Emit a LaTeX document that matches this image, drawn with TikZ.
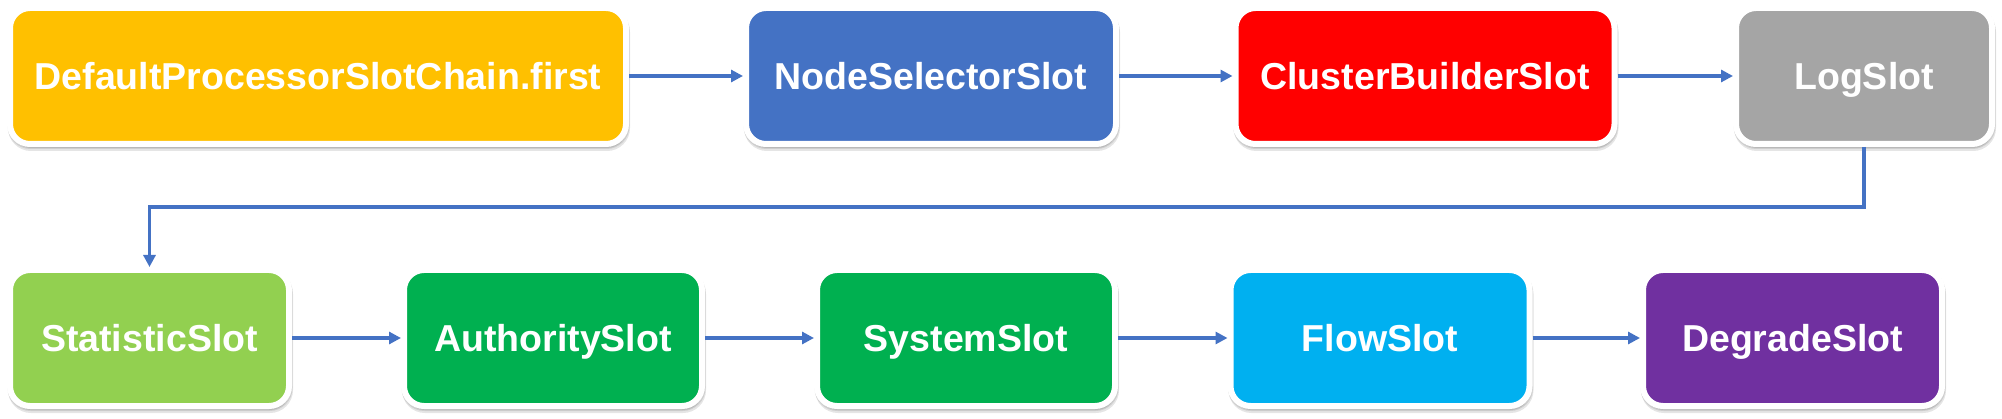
\documentclass[tikz,border=0pt]{standalone}
\usepackage{fontspec}
\setmainfont{Liberation Sans}
\usetikzlibrary{arrows.meta,shadows,calc}
\definecolor{cyellow}{HTML}{FFC000}
\definecolor{cblue}{HTML}{4472C4}
\definecolor{cred}{HTML}{FF0000}
\definecolor{cgray}{HTML}{A5A5A5}
\definecolor{clgreen}{HTML}{92D050}
\definecolor{cgreen}{HTML}{00B050}
\definecolor{ccyan}{HTML}{00B0F0}
\definecolor{cpurple}{HTML}{7030A0}
\definecolor{cline}{HTML}{4472C4}
\tikzset{
  slotbox/.style={
    rectangle, rounded corners=20pt, draw=white, line width=6pt,
    minimum height=136pt, inner sep=0pt, text=white,
    font=\fontsize{37.5pt}{40pt}\selectfont\bfseries,
    text height=26.85pt, text depth=0pt,
    drop shadow={shadow xshift=1pt, shadow yshift=-4pt, opacity=0.10, fill=black, draw=black, line width=6pt},
    drop shadow={shadow xshift=0.5pt, shadow yshift=-2pt, opacity=0.10, fill=black, draw=black, line width=6pt}
  },
  conn/.style={draw=cline, line width=3.6pt, -{Triangle[length=12pt,width=12pt]}}
}
\begin{document}
\begin{tikzpicture}[x=1pt,y=-1pt]
\useasboundingbox (0,0) rectangle (2002,419);
% row 1
\node[slotbox, fill=cyellow, minimum width=616pt] (b1) at (318,76) {DefaultProcessorSlotChain.first};
\node[slotbox, fill=cblue, minimum width=370pt] (b2) at (931,76) {NodeSelectorSlot};
\node[slotbox, fill=cred, minimum width=379pt] (b3) at (1425,76) {ClusterBuilderSlot};
\node[slotbox, fill=cgray, minimum width=256pt] (b4) at (1864,76) {LogSlot};
% row 2
\node[slotbox, fill=clgreen, minimum width=279pt] (s1) at (149.5,338) {StatisticSlot};
\node[slotbox, fill=cgreen, minimum width=298pt] (s2) at (553,338) {AuthoritySlot};
\node[slotbox, fill=cgreen, minimum width=298pt] (s3) at (966,338) {SystemSlot};
\node[slotbox, fill=ccyan, minimum width=299pt] (s4) at (1380,338) {FlowSlot};
\node[slotbox, fill=cpurple, minimum width=299pt] (s5) at (1792.5,338) {DegradeSlot};
% connectors
\draw[conn] (b1) -- (b2);
\draw[conn] (b2) -- (b3);
\draw[conn] (b3) -- (b4);
\coordinate (turn) at (0,207);
\draw[conn] (b4.south) -- (b4.south |- turn) -| (s1.north);
\draw[conn] (s1) -- (s2);
\draw[conn] (s2) -- (s3);
\draw[conn] (s3) -- (s4);
\draw[conn] (s4) -- (s5);
\end{tikzpicture}
\end{document}
